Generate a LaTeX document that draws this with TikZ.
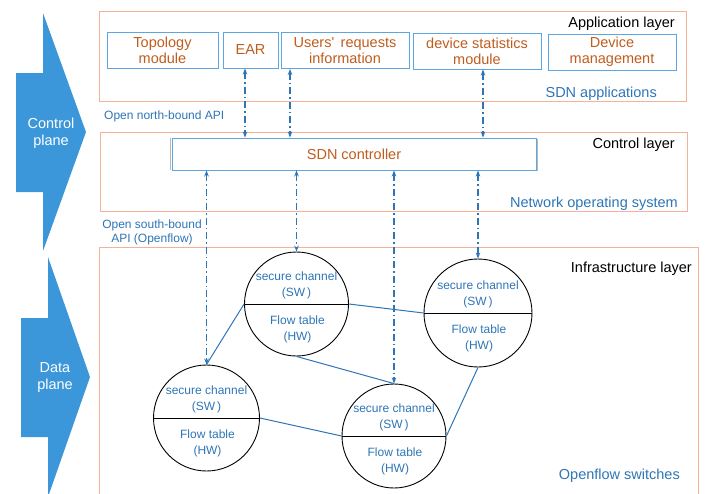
\documentclass[tikz,border=0pt]{standalone}
\usepackage{fontspec}
\setmainfont{Liberation Sans}
\usetikzlibrary{positioning}
\usetikzlibrary{arrows.meta}

\definecolor{layerline}{RGB}{244,178,152}
\definecolor{modline}{RGB}{93,166,226}
\definecolor{modtext}{RGB}{192,92,30}
\definecolor{apiblue}{RGB}{46,117,182}
\definecolor{planefill}{RGB}{59,151,218}

\tikzset{
    layer/.style={draw=layerline, line width=0.9pt, minimum width=587pt, inner sep=0pt},
    module/.style={draw=modline, line width=0.9pt, align=center, text=modtext, inner sep=0pt,
        minimum height=36pt, font=\fontsize{14.5}{16}\selectfont},
    layertitle/.style={anchor=east, inner sep=0pt, font=\fontsize{14.5}{16}\selectfont},
    layernote/.style={anchor=east, inner sep=0pt, text=apiblue, font=\fontsize{14.5}{16}\selectfont},
    apinote/.style={inner sep=0pt, text=apiblue, align=center, font=\fontsize{12}{14}\selectfont},
    planelabel/.style={inner sep=0pt, text=white, align=center, font=\fontsize{14.5}{17}\selectfont},
    switch/.style={circle, draw=black, line width=0.9pt, minimum size=106pt, inner sep=0pt},
    swtext/.style={inner sep=0pt, text=apiblue, align=center, font=\fontsize{12}{16}\selectfont},
    api/.style={draw=apiblue, line width=1.4pt, dash pattern=on 7pt off 3pt on 1.5pt off 3pt,
        {Stealth[length=6pt,width=4.5pt]}-{Stealth[length=6pt,width=4.5pt]}},
    link/.style={draw=apiblue, line width=1pt}
}

\begin{document}
\begin{tikzpicture}[x=1pt, y=-1pt, node distance=1cm]
    \useasboundingbox (0,0) rectangle (712,493);

    % planes
    \fill[planefill] (16,73) -- (43,73) -- (43,13) -- (86,132) -- (43,251) -- (43,192) -- (16,192) -- cycle;
    \node (cplane) [planelabel] at (51,133) {Control\\plane};
    \fill[planefill] (21,318) -- (48,318) -- (48,257) -- (90,377) -- (48,497) -- (48,437) -- (21,437) -- cycle;
    \node (dplane) [planelabel] at (55,378) {Data\\plane};

    % layers
    \node (app) [layer, minimum height=90pt] at (392.5,56) {};
    \node (ctl) [layer, minimum height=79pt] at (393.5,171.5) {};
    \draw[draw=layerline, line width=0.9pt] (99,500) |- (698,247) -- (698,500);

    \node (appt) [layertitle] at (675,24) {Application layer};
    \node (appn) [layernote] at (657,94) {SDN applications};
    \node (ctlt) [layertitle] at (675,145) {Control layer};
    \node (ctln) [layernote] at (678,204) {Network operating system};
    \node (inft) [layertitle] at (692,269) {Infrastructure layer};
    \node (infn) [layernote] at (680,476) {Openflow switches};

    \node (north) [apinote, anchor=west] at (104,116) {Open north-bound API};
    \node (south) [apinote] at (152,232) {Open south-bound\\API (Openflow)};

    % SDN applications
    \node (topo) [module, minimum width=111pt] at (162.5,50) {Topology\\module};
    \node (ear) [module, minimum width=55pt] at (250.5,50) {EAR};
    \node (user) [module, minimum width=128pt] at (345,50.5) {Users\textquotesingle\, requests\\information};
    \node (stat) [module, minimum width=128pt] at (477,51) {device statistics\\module};
    \node (mgmt) [module, minimum width=128pt] at (612,52) {Device\\management};

    % controller
    \draw[gray!55, line width=1.5pt] (537.5,139) -- (537.5,171);
    \draw[gray!55, line width=0.8pt] (170.5,138) -- (170.5,170);
    \node (ctrl) [module, minimum width=364pt, minimum height=32pt] at (354,154) {SDN controller};

    % switches
    \node (sw1) [switch] at (206.5,418) {};
    \node (sw2) [switch, minimum size=104pt] at (296.5,304) {};
    \node (sw3) [switch, minimum size=108pt] at (478,313) {};
    \node (sw4) [switch, minimum size=104pt] at (394,436) {};
    \foreach \s in {sw1,sw2,sw3,sw4} {
        \draw[line width=0.9pt] (\s.west) -- (\s.east);
        \node (\s up) [swtext, above=5pt of \s.center] {secure channel\\(SW\,)};
        \node (\s dn) [swtext, below=12pt of \s.center, xshift=1pt] {Flow table\\(HW)};
    }

    \draw[link] (sw1.north) -- (sw2.west);
    \draw[link] (sw1.east) -- (sw4.west);
    \draw[link] (sw2.east) -- (sw3.west);
    \draw[link] (sw2.south) -- (sw4.north);
    \draw[link] (sw3.south) -- (sw4.east);

    % north-bound
    \draw[api] ([xshift=-5.5pt]ear.south) -- ([xshift=-5.5pt]ear.south |- ctrl.north);
    \draw[api] ([xshift=-55pt]user.south) -- ([xshift=-55pt]user.south |- ctrl.north);
    \draw[api] ([xshift=6pt]stat.south) -- ([xshift=6pt]stat.south |- ctrl.north);

    % south-bound
    \draw[api] (sw1.north |- ctrl.south) -- (sw1.north);
    \draw[api] (sw2.north |- ctrl.south) -- (sw2.north);
    \draw[api] (sw4.north |- ctrl.south) -- (sw4.north);
    \draw[api] (sw3.north |- ctrl.south) -- (sw3.north);
\end{tikzpicture}
\end{document}
